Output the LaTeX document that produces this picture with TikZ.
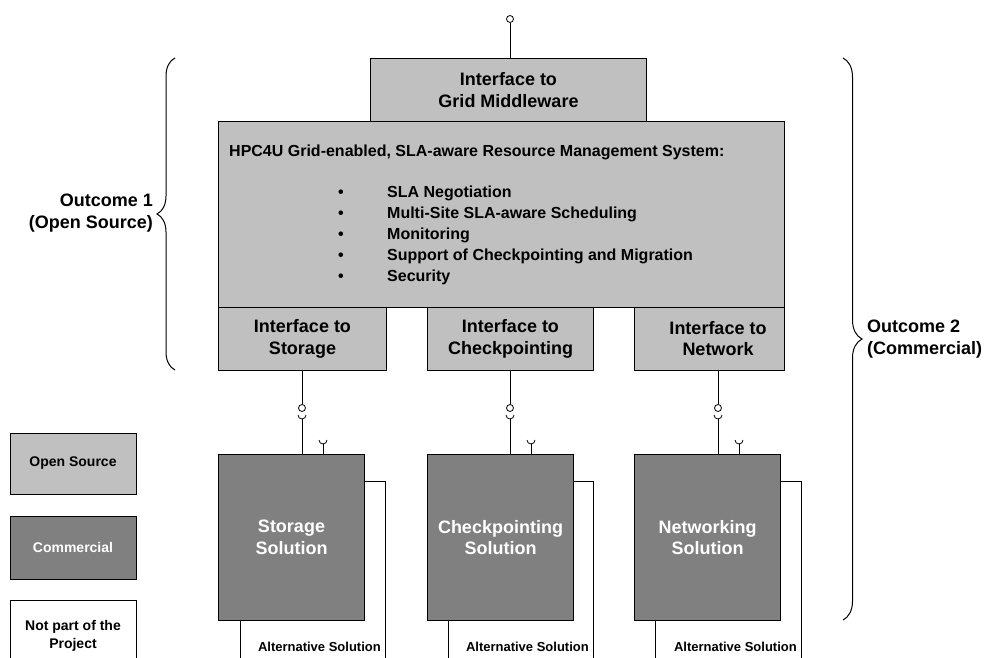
\documentclass[tikz,border=0pt]{standalone}
\usepackage{fontspec}
\setmainfont{Liberation Sans}
\usepackage{tikz}
\usetikzlibrary{decorations.pathreplacing}
\definecolor{cOpen}{HTML}{C0C0C0}
\definecolor{cComm}{HTML}{808080}
\tikzset{
  osbox/.style ={draw=black, fill=cOpen, line width=1pt, inner sep=0pt, align=center, font=\bfseries\fontsize{18}{21.5}\selectfont},
  combox/.style={draw=black, fill=cComm, line width=1pt, inner sep=0pt, align=center, text=white, font=\bfseries\fontsize{18}{21.5}\selectfont},
  legbox/.style={draw=black, line width=1pt, inner sep=0pt, align=center, minimum width=126pt, font=\bfseries\fontsize{14}{18}\selectfont},
  iftext/.style={align=center, inner sep=0pt, font=\bfseries\fontsize{18}{21.5}\selectfont},
  rmstext/.style={inner sep=0pt, font=\bfseries\fontsize{16}{21}\selectfont},
  alttext/.style={inner sep=0pt, font=\bfseries\fontsize{13}{15}\selectfont},
  wire/.style={line width=0.9pt},
  ball/.style={draw, circle, fill=white, inner sep=0pt, minimum size=7pt, line width=0.8pt},
  socket/.pic={\draw[line width=0.8pt] (-4,4) arc[start angle=180, end angle=360, radius=4pt];},
  outbrace/.style={decorate, decoration={brace, amplitude=#1}, line width=1pt},
}
\begin{document}
\begin{tikzpicture}[x=1pt, y=1pt]
  \useasboundingbox (0,0) rectangle (988,657);
  \clip (0,0) rectangle (988,657);

  % system core
  \node[osbox, minimum width=276pt, minimum height=63pt, anchor=north west] (gridif) at (370,599) {Interface to\\Grid Middleware};
  \node[ball] (topball) at (510,638) {};
  \draw[wire] (gridif.north -| topball) -- (topball);
  \node[osbox, minimum width=566pt, minimum height=186pt, anchor=north west] (rms) at (218,536) {};
  \node[rmstext, anchor=west] (rmstitle) at (229,505) {HPC4U Grid-enabled, SLA-aware Resource Management System:};
  \node[rmstext, anchor=west] (rmslist) at (338,422) {\begin{tabular}{@{}p{49pt}@{}l@{}}
      \textbullet & SLA Negotiation\\
      \textbullet & Multi-Site SLA-aware Scheduling\\
      \textbullet & Monitoring\\
      \textbullet & Support of Checkpointing and Migration\\
      \textbullet & Security
    \end{tabular}};

  % interfaces
  \node[osbox, minimum width=168pt, minimum height=63pt, anchor=north west] (stoif) at (218,350) {Interface to\\Storage};
  \node[osbox, minimum width=166pt, minimum height=63pt, anchor=north west] (chkif) at (427,350) {Interface to\\Checkpointing};
  \node[osbox, minimum width=150pt, minimum height=63pt, anchor=north west] (netif) at (634,350) {};
  \node[iftext] (netiftext) at (718,318.5) {Interface to\\Network};

  % storage
  \node[combox, minimum width=146pt, minimum height=166pt, anchor=north west] (stosol) at (218,203) {Storage\\Solution};
  \node[ball] (stoball) at (302,249) {};
  \draw[wire] (stoif.south -| stoball) -- (stoball);
  \coordinate (stosock) at (302,238);
  \pic at (stosock) {socket};
  \draw[wire] (stosock) -- (stosock |- stosol.north);
  \coordinate (stosock2) at (323,213);
  \pic at (stosock2) {socket};
  \draw[wire] (stosock2) -- (stosock2 |- stosol.north);
  \coordinate (stoalt) at (385,-2);
  \draw[wire] ([yshift=-27pt]stosol.north east) -| (stoalt);
  \coordinate (stoend) at (240,-2);
  \draw[wire] (stosol.south -| stoend) -- (stoend);
  \node[alttext, anchor=east] (stoalttext) at (381,10) {Alternative Solution};

  % checkpointing
  \node[combox, minimum width=146pt, minimum height=166pt, anchor=north west] (chksol) at (427,203) {Checkpointing\\Solution};
  \node[ball] (chkball) at (510,249) {};
  \draw[wire] (chkif.south -| chkball) -- (chkball);
  \coordinate (chksock) at (510,238);
  \pic at (chksock) {socket};
  \draw[wire] (chksock) -- (chksock |- chksol.north);
  \coordinate (chksock2) at (531,213);
  \pic at (chksock2) {socket};
  \draw[wire] (chksock2) -- (chksock2 |- chksol.north);
  \coordinate (chkalt) at (593,-2);
  \draw[wire] ([yshift=-27pt]chksol.north east) -| (chkalt);
  \coordinate (chkend) at (448,-2);
  \draw[wire] (chksol.south -| chkend) -- (chkend);
  \node[alttext, anchor=east] (chkalttext) at (589,10) {Alternative Solution};

  % networking
  \node[combox, minimum width=146pt, minimum height=166pt, anchor=north west] (netsol) at (634,203) {Networking\\Solution};
  \node[ball] (netball) at (718,249) {};
  \draw[wire] (netif.south -| netball) -- (netball);
  \coordinate (netsock) at (718,238);
  \pic at (netsock) {socket};
  \draw[wire] (netsock) -- (netsock |- netsol.north);
  \coordinate (netsock2) at (739,213);
  \pic at (netsock2) {socket};
  \draw[wire] (netsock2) -- (netsock2 |- netsol.north);
  \coordinate (netalt) at (801,-2);
  \draw[wire] ([yshift=-27pt]netsol.north east) -| (netalt);
  \coordinate (netend) at (655,-2);
  \draw[wire] (netsol.south -| netend) -- (netend);
  \node[alttext, anchor=east] (netalttext) at (797,10) {Alternative Solution};

  % outcomes
  \draw[outbrace=18pt] (175,287) -- (175,599);
  \node[iftext, anchor=east, align=right] (out1) at (153,444) {Outcome 1\\(Open Source)};
  \draw[outbrace=19pt] (843,599) -- (843,37);
  \node[iftext, anchor=west, align=left] (out2) at (867,318) {Outcome 2\\(Commercial)};

  % legend
  \node[legbox, fill=cOpen, minimum height=61pt] (legos) at (73,193.5) {Open Source};
  \node[legbox, fill=cComm, text=white, minimum height=63pt] (legcom) at (73,109.5) {Commercial};
  \node[legbox, fill=white, minimum height=70pt, anchor=north] (legnp) at (73,57) {Not part of the\\Project};
\end{tikzpicture}
\end{document}
